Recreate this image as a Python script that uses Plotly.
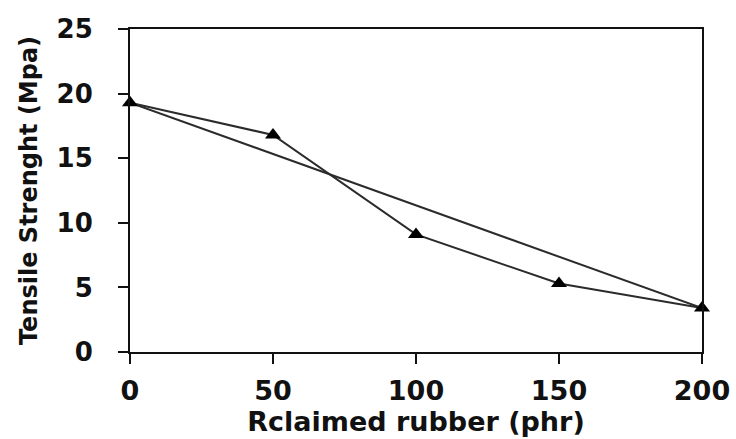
import plotly.graph_objects as go

# Reclaimed rubber loading (phr) and measured tensile strength (MPa)
reclaimed_phr = [0, 50, 100, 150, 200]
tensile_mpa = [19.3, 16.8, 9.1, 5.3, 3.4]

# Straight reference line joining the first and last measurements
ref_x = [reclaimed_phr[0], reclaimed_phr[-1]]
ref_y = [tensile_mpa[0], tensile_mpa[-1]]

x_ticks = [0, 50, 100, 150, 200]
y_ticks = [0, 5, 10, 15, 20, 25]

FONT = "DejaVu Sans"
INK = "#111111"
LINE = "#2b2b2b"

fig = go.Figure()
fig.add_trace(go.Scatter(
    x=ref_x, y=ref_y, mode="lines",
    line=dict(color=LINE, width=2),
    cliponaxis=False, showlegend=False, hoverinfo="skip",
))
fig.add_trace(go.Scatter(
    x=reclaimed_phr, y=tensile_mpa, mode="lines+markers",
    line=dict(color=LINE, width=2),
    marker=dict(symbol="triangle-up", size=14, color="#000000"),
    cliponaxis=False, showlegend=False,
))

axis_common = dict(
    showgrid=False, zeroline=False,
    showline=True, linecolor=INK, linewidth=2, mirror=True,
    ticks="outside", ticklen=10, tickwidth=2, tickcolor=INK,
    layer="above traces",
)

fig.update_xaxes(
    range=[0, 200], tickvals=x_ticks, ticktext=[str(v) for v in x_ticks],
    tickfont=dict(family=FONT, size=27, color=INK, weight="bold"),
    ticklabelstandoff=4,
    title=dict(text="Rclaimed rubber (phr)", standoff=3,
               font=dict(family=FONT, size=27, color=INK, weight="bold")),
    **axis_common,
)
fig.update_yaxes(
    range=[0, 25], tickvals=y_ticks, ticktext=[str(v) for v in y_ticks],
    tickfont=dict(family=FONT, size=26, color=INK, weight="bold"),
    ticklabelstandoff=20,
    title=dict(text="Tensile Strenght (Mpa)", standoff=12,
               font=dict(family=FONT, size=24, color=INK, weight="bold")),
    **axis_common,
)

fig.update_layout(
    width=736, height=439,
    margin=dict(l=130, r=34, t=29, b=87, autoexpand=False),
    paper_bgcolor="white", plot_bgcolor="white",
)

fig.write_html("out.html")
